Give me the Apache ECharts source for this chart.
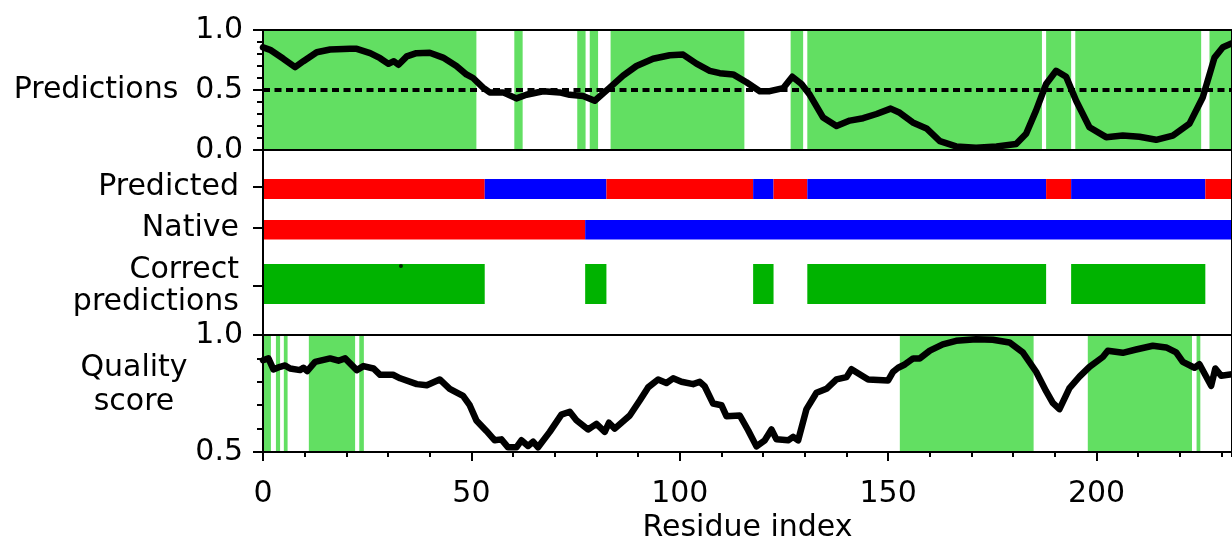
<!DOCTYPE html>
<html>
<head>
<meta charset="utf-8">
<script src="https://cdn.jsdelivr.net/npm/echarts@6/dist/echarts.min.js"></script>
<style>
  html, body { margin: 0; padding: 0; background: #fff; }
  #chart { width: 1232px; height: 544px; }
</style>
</head>
<body>
<div id="chart"></div>
<script>
// per-residue prediction score (top panel)
const predictions = [
  [0, 0.855], [1.7, 0.835], [4.9, 0.76], [7.7, 0.69], [9.7, 0.74], [12.9, 0.815], [16.1, 0.837],
  [20.9, 0.843], [22.5, 0.843], [25.7, 0.807], [28.1, 0.765], [30.1, 0.718], [31.4, 0.74], [32.5, 0.71],
  [34.5, 0.78], [36.8, 0.807], [40, 0.81], [43.2, 0.77], [46.4, 0.70], [48.8, 0.63], [50.4, 0.60],
  [52.8, 0.52], [54.4, 0.48], [57.6, 0.48], [60.8, 0.43], [63.2, 0.46], [67.2, 0.49], [71.2, 0.48],
  [73.6, 0.46], [76.8, 0.45], [79.6, 0.41], [83.2, 0.52], [86.4, 0.62], [89.6, 0.70], [93.6, 0.76],
  [97.6, 0.79], [100.8, 0.795], [104, 0.72], [107.2, 0.66], [109.6, 0.64], [112.8, 0.63], [116, 0.565],
  [119.2, 0.49], [121.6, 0.49], [124.8, 0.515], [127, 0.61], [129.2, 0.55], [131.2, 0.46], [134.4, 0.27],
  [137.6, 0.20], [140.8, 0.245], [144, 0.265], [147.2, 0.30], [150.6, 0.345], [152.8, 0.31], [155.9, 0.23],
  [159.2, 0.18], [162.4, 0.074], [166.3, 0.03], [171.1, 0.018], [176, 0.03], [180.7, 0.05], [183.1, 0.135],
  [185.5, 0.33], [187.9, 0.55], [190.3, 0.66], [192.7, 0.61], [195.1, 0.41], [198.3, 0.19], [202.3, 0.107],
  [206.3, 0.12], [210.3, 0.11], [214.3, 0.085], [218.3, 0.12], [222.3, 0.22], [225.5, 0.44], [228.3, 0.77],
  [230.3, 0.857], [232.5, 0.89]
]
const threshold = 0.5

// green bands in the top panel [start, end]
const predictionBands = [
  [0, 51.2], [60.3, 62.3], [75.4, 77.4], [78.4, 80.4], [83.4, 115.5], [126.6, 129.6],
  [130.6, 186.9], [187.9, 193.9], [194.9, 225.1], [227.1, 232.5]
]

// class segments [start, end, class] (0 = red, 1 = blue)
const predictedSegments = [
  [0, 53.2, 0], [53.2, 82.4, 1], [82.4, 117.6, 0], [117.6, 122.5, 1], [122.5, 130.6, 0],
  [130.6, 187.9, 1], [187.9, 193.9, 0], [193.9, 226.1, 1], [226.1, 232.5, 0]
]
const nativeSegments = [[0, 77.3, 0], [77.3, 232.5, 1]]
const correctSegments = [[0, 53.2], [77.3, 82.4], [117.6, 122.5], [130.6, 187.9], [193.9, 226.1]]
const strayDot = [[33.1, 2.9]]

// quality score (bottom panel)
const quality = [
  [0, 0.892], [1.3, 0.9], [2.5, 0.853], [4.1, 0.864], [5.3, 0.87], [6.5, 0.857], [8.9, 0.85], [9.7, 0.86],
  [10.6, 0.846], [12.5, 0.885], [16.1, 0.90], [18.1, 0.89], [19.7, 0.90], [22.5, 0.85], [24.1, 0.867],
  [26.5, 0.857], [28.1, 0.83], [31.2, 0.83], [32.9, 0.815], [36.9, 0.79], [39.3, 0.785], [42.4, 0.81],
  [44.8, 0.77], [48, 0.74], [49.6, 0.70], [51.2, 0.635], [53.6, 0.59], [55.6, 0.55], [57.2, 0.554],
  [58.8, 0.52], [60.8, 0.52], [62, 0.55], [63.6, 0.526], [64.8, 0.544], [66, 0.52], [68.8, 0.586],
  [71.6, 0.66], [73.6, 0.672], [75.2, 0.636], [78, 0.596], [80, 0.62], [82, 0.586], [83, 0.625], [84.4, 0.6],
  [88, 0.656], [90.4, 0.72], [92.4, 0.776], [94.8, 0.81], [96.8, 0.795], [98.4, 0.815], [100.4, 0.80],
  [103.2, 0.79], [104.8, 0.80], [106, 0.78], [108, 0.707], [110, 0.70], [111.2, 0.653], [114.4, 0.656],
  [116.4, 0.593], [118.4, 0.524], [120.4, 0.55], [122, 0.596], [123.2, 0.554], [126, 0.55], [127.2, 0.565],
  [128.4, 0.55], [130.4, 0.683], [132.8, 0.753], [135.2, 0.77], [137.6, 0.81], [140, 0.82], [141.2, 0.854],
  [145.2, 0.81], [150, 0.806], [151.2, 0.843], [152.4, 0.86], [154, 0.874], [156, 0.90], [157.6, 0.90],
  [160, 0.933], [163.1, 0.96], [166.3, 0.975], [171.1, 0.982], [175.1, 0.98], [179.1, 0.968], [182.3, 0.926],
  [185.5, 0.843], [187.9, 0.76], [189.5, 0.71], [191.1, 0.683], [193.5, 0.773], [195.9, 0.822], [198.3, 0.864],
  [201.5, 0.906], [202.7, 0.933], [206.3, 0.924], [209.5, 0.938], [213.5, 0.954], [216.7, 0.947],
  [219.1, 0.926], [220.7, 0.885], [223.5, 0.86], [224.7, 0.875], [227.5, 0.783], [228.5, 0.857],
  [229.9, 0.826], [232.5, 0.832]
]
const qualityBands = [
  [0, 1.9], [3.1, 4.1], [5.0, 5.9], [11.0, 22.1], [23.1, 24.2], [152.8, 184.9], [197.9, 222.9], [224.0, 224.9]
]

const rowNames = ['Predicted', 'Native', 'Correct\npredictions']

const XMAX = 232.5
const FONT = 'DejaVu Sans'
const FONT_SIZE = 30
const BAND_GREEN = '#62df62'
const CORRECT_GREEN = '#00b300'
const classColors = ['#ff0000', '#0000ff']
// middle panel layout (value units, axis inverted, 1 unit = 40px)
const rowTicks = [0.93, 1.95, 3.4]
const rowSpans = [[0.725, 1.225], [1.75, 2.24], [2.85, 3.85]]

const rectSeries = (gridIdx, data, yFrom, yTo, colorOf) => ({
    type: 'custom',
    xAxisIndex: gridIdx === 2 ? 3 : gridIdx,
    yAxisIndex: gridIdx,
    z: 1,
    silent: true,
    data: data,
    encode: { x: [0, 1] },
    renderItem: function(params, api) {
        const a = api.coord([api.value(0), yFrom])
        const b = api.coord([api.value(1), yTo])
        const shape = echarts.graphic.clipRectByRect({
            x: a[0],
            y: Math.min(a[1], b[1]),
            width: b[0] - a[0],
            height: Math.abs(b[1] - a[1])
        }, {
            x: params.coordSys.x,
            y: params.coordSys.y,
            width: params.coordSys.width,
            height: params.coordSys.height
        })
        return shape && {
            type: 'rect',
            shape: shape,
            style: { fill: colorOf(api) }
        }
    }
})

const hiddenX = (gridIndex) => ({
    type: 'value', gridIndex: gridIndex, min: 0, max: XMAX,
    axisLine: { show: false }, axisTick: { show: false }, axisLabel: { show: false }, splitLine: { show: false }
})

const labelStyle = { fontSize: FONT_SIZE, color: '#000', fontFamily: FONT }
const tickStyle = { color: '#000', width: 2 }

const myChart = echarts.init(document.getElementById('chart'))
const option = {
    animation: false,
    textStyle: { fontFamily: FONT, color: '#000' },
    grid: [
        { left: 263, top: 30, width: 972, height: 120, show: true, borderColor: '#000', borderWidth: 2, z: 5 },
        { left: 263, top: 150, width: 972, height: 185, show: true, borderColor: '#000', borderWidth: 2, z: 5 },
        { left: 263, top: 335, width: 972, height: 120, show: true, borderColor: '#000', borderWidth: 2, z: 5 }
    ],
    xAxis: [
        hiddenX(0),
        hiddenX(1),
        {
            type: 'value', gridIndex: 2, min: 0, max: XMAX, interval: 10,
            axisLine: { show: false },
            axisTick: { length: 5, lineStyle: tickStyle },
            axisLabel: { show: false },
            splitLine: { show: false }
        },
        {
            type: 'value', gridIndex: 2, min: 0, max: XMAX, interval: 50, position: 'bottom',
            axisLine: { show: false },
            axisTick: { length: 9, lineStyle: tickStyle },
            axisLabel: { ...labelStyle, margin: 27, showMaxLabel: false },
            splitLine: { show: false },
            name: 'Residue index',
            nameLocation: 'middle',
            nameGap: 61,
            nameTextStyle: labelStyle
        }
    ],
    yAxis: [
        {
            type: 'value', gridIndex: 0, min: 0, max: 1, interval: 0.5,
            axisLine: { show: false },
            axisTick: { length: 10, lineStyle: tickStyle },
            minorTick: { show: true, splitNumber: 5, length: 6, lineStyle: tickStyle },
            axisLabel: { ...labelStyle, margin: 20, formatter: v => v.toFixed(1) },
            splitLine: { show: false },
            name: 'Predictions',
            nameLocation: 'middle',
            nameRotate: 0,
            nameGap: 167,
            nameTextStyle: { ...labelStyle, align: 'center' }
        },
        {
            type: 'value', gridIndex: 1, min: 0, max: 4.625, inverse: true,
            axisLine: { show: false },
            axisTick: { customValues: rowTicks, length: 10, lineStyle: tickStyle },
            axisLabel: {
                ...labelStyle,
                customValues: rowTicks,
                margin: 24,
                lineHeight: 32,
                formatter: v => rowNames[rowTicks.indexOf(v)]
            },
            splitLine: { show: false }
        },
        {
            type: 'value', gridIndex: 2, min: 0.5, max: 1, interval: 0.5,
            axisLine: { show: false },
            axisTick: { length: 10, lineStyle: tickStyle },
            minorTick: { show: true, splitNumber: 5, length: 6, lineStyle: tickStyle },
            axisLabel: { ...labelStyle, margin: 20, formatter: v => v.toFixed(1) },
            splitLine: { show: false },
            name: '{t|Quality}\n{t|score}\n{pad|}',
            nameLocation: 'middle',
            nameRotate: 0,
            nameGap: 129,
            nameTextStyle: {
                ...labelStyle,
                align: 'center',
                rich: {
                    t: { ...labelStyle, lineHeight: 34 },
                    pad: { fontSize: 1, lineHeight: 16 }
                }
            }
        }
    ],
    series: [
        rectSeries(0, predictionBands, 1, 0, () => BAND_GREEN),
        {
            name: 'Predictions',
            type: 'line',
            xAxisIndex: 0,
            yAxisIndex: 0,
            z: 3,
            data: predictions,
            showSymbol: false,
            lineStyle: { color: '#000', width: 6.5, join: 'round', cap: 'round' },
            markLine: {
                silent: true,
                symbol: 'none',
                label: { show: false },
                lineStyle: { color: '#000', width: 4, type: [7, 4.5] },
                data: [{ yAxis: threshold }]
            }
        },
        rectSeries(1, predictedSegments, rowSpans[0][0], rowSpans[0][1], api => classColors[api.value(2)]),
        rectSeries(1, nativeSegments, rowSpans[1][0], rowSpans[1][1], api => classColors[api.value(2)]),
        rectSeries(1, correctSegments, rowSpans[2][0], rowSpans[2][1], () => CORRECT_GREEN),
        {
            type: 'scatter',
            xAxisIndex: 1,
            yAxisIndex: 1,
            z: 3,
            symbolSize: 4,
            itemStyle: { color: '#000' },
            data: strayDot
        },
        rectSeries(2, qualityBands, 1, 0.5, () => BAND_GREEN),
        {
            name: 'Quality score',
            type: 'line',
            xAxisIndex: 3,
            yAxisIndex: 2,
            z: 3,
            data: quality,
            showSymbol: false,
            lineStyle: { color: '#000', width: 6.5, join: 'round', cap: 'round' }
        }
    ]
}

myChart.setOption(option)
</script>
</body>
</html>
